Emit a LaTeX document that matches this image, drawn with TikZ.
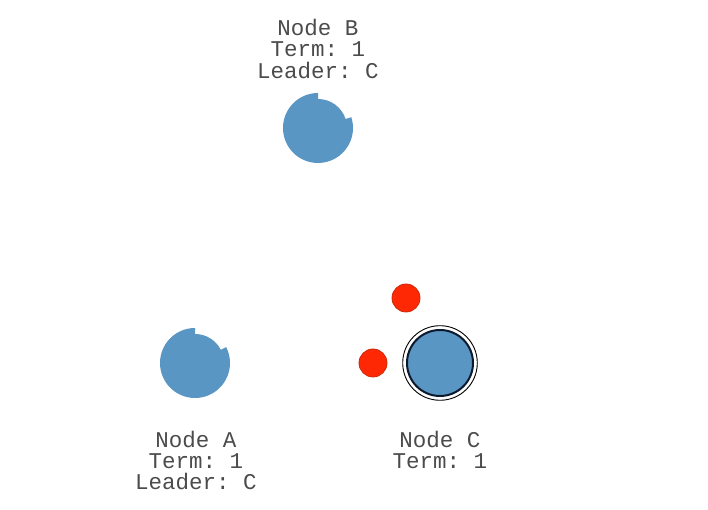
\documentclass[tikz,border=0pt]{standalone}
\usepackage{fontspec}
\setmonofont{Liberation Mono}
\usetikzlibrary{calc}
\definecolor{nodeblue}{RGB}{89,150,196}
\definecolor{nodeedge}{RGB}{12,24,44}
\definecolor{msgred}{RGB}{255,40,5}
\definecolor{msgedge}{RGB}{205,40,10}
\definecolor{labelgray}{RGB}{75,75,75}
\tikzset{
  server/.style={fill=nodeblue, draw=none},
  message/.style={circle, fill=msgred, draw=msgedge, line width=0.8bp, minimum size=28bp, inner sep=0pt},
  leaderring/.style={draw=black, line width=0.9bp},
  leaderbody/.style={fill=nodeblue, draw=nodeedge, line width=2bp},
  caption/.style={align=center, text=labelgray, inner sep=0pt,
    font=\ttfamily\fontsize{22.5bp}{21bp}\selectfont},
}
\begin{document}
\begin{tikzpicture}[x=1bp, y=1bp]
  \useasboundingbox (0,0) rectangle (708,510);

  % server centres
  \coordinate (A) at (195,147);
  \coordinate (B) at (318,382);
  \coordinate (C) at (440,147);

  % follower B with its election timer notch
  \fill[server] (B) ++(90:35) arc[start angle=90, end angle=378, radius=35]
    -- ($(B)+(18:29)$) arc[start angle=18, end angle=90, radius=29] -- cycle;
  % follower A with its election timer notch
  \fill[server] (A) ++(90:35) arc[start angle=90, end angle=387, radius=35]
    -- ($(A)+(27:29)$) arc[start angle=27, end angle=90, radius=29] -- cycle;

  % leader C
  \draw[leaderring] (C) circle[radius=37.3];
  \draw[leaderbody] (C) circle[radius=33];

  % messages in flight
  \node[message] (m1) at (406,212) {};
  \node[message] (m2) at (373,147) {};

  % labels
  \node[caption] (labB) at (318,461) {Node B\\Term: 1\\Leader: C};
  \node[caption] (labA) at (196,50) {Node A\\Term: 1\\Leader: C};
  \node[caption] (labC) at (440,60.5) {Node C\\Term: 1};
\end{tikzpicture}
\end{document}
